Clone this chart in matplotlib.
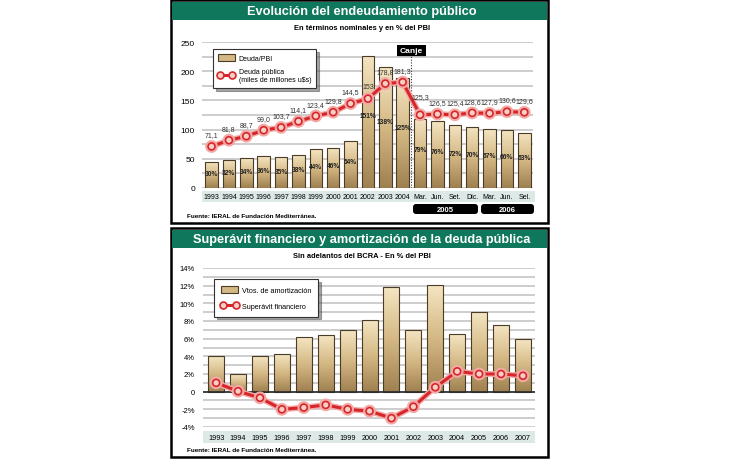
import numpy as np
import matplotlib
matplotlib.use("Agg")
import matplotlib.pyplot as plt
import matplotlib.patheffects as pe
from matplotlib.patches import Rectangle, FancyBboxPatch, Patch
from matplotlib.lines import Line2D
from matplotlib.colors import LinearSegmentedColormap
from matplotlib.ticker import FuncFormatter

plt.rcParams['font.family'] = ['Liberation Sans', 'DejaVu Sans']

# top chart: deuda publica
deuda_cats = ['1993', '1994', '1995', '1996', '1997', '1998', '1999', '2000', '2001', '2002',
              '2003', '2004', 'Mar.', 'Jun.', 'Set.', 'Dic.', 'Mar.', 'Jun.', 'Sel.']
deuda_pbi = [30, 32, 34, 36, 35, 38, 44, 46, 54, 151, 138, 125, 79, 76, 72, 70, 67, 66, 63]
deuda_usd = [71.1, 81.8, 88.7, 99.0, 103.7, 114.1, 123.4, 129.8, 144.5, 153.0, 178.8, 181.3,
             125.3, 126.5, 125.4, 128.6, 127.9, 130.6, 129.6]
deuda_usd_txt = ['71,1', '81,8', '88,7', '99,0', '103,7', '114,1', '123,4', '129,8', '144,5', '153',
                 '178,8', '181,3', '125,3', '126,5', '125,4', '128,6', '127,9', '130,6', '129,6']
periodos = ['2005', '2006']

# bottom chart: superavit y amortizacion
sup_years = ['1993', '1994', '1995', '1996', '1997', '1998', '1999', '2000', '2001', '2002',
             '2003', '2004', '2005', '2006', '2007']
vtos_amort = [4.0, 2.0, 4.0, 4.3, 6.2, 6.4, 7.0, 8.1, 11.8, 7.0, 12.1, 6.5, 9.0, 7.5, 6.0]
superavit = [1.0, 0.05, -0.7, -2.0, -1.8, -1.5, -2.0, -2.2, -3.0, -1.7, 0.5, 2.3, 2.0, 2.0, 1.8]

W, H = 730, 460
green = '#0f775c'
red = '#d7262b'
grid_c = '#c9c9c9'
band_c = '#dce9e6'
tan = LinearSegmentedColormap.from_list('tan', ['#9f8050', '#d4b884', '#f4e5c2'])
grad = np.linspace(0, 1, 200).reshape(-1, 1)

fig = plt.figure(figsize=(W / 100, H / 100), dpi=100)

# background layer in pixel coords
bg = fig.add_axes([0, 0, 1, 1], zorder=-5)
bg.set_xlim(0, W)
bg.set_ylim(H, 0)
bg.axis('off')


def panel(top, bottom, title, subtitle):
    bg.add_patch(Rectangle((171, top), 377, bottom - top, fc='white', ec='black', lw=1.8))
    bg.add_patch(Rectangle((172, top + 1.5), 375, 18, fc=green, ec='none'))
    bg.text(362, top + 11, title, color='white', fontsize=9.2, fontweight='bold',
            ha='center', va='center')
    bg.text(362, top + 27.5, subtitle, fontsize=5.4, fontweight='bold', ha='center', va='center')
    bg.text(187, bottom - 7, 'Fuente: IERAL de Fundación Mediterránea.', fontsize=4.6,
            fontweight='bold', ha='left', va='center')


panel(1, 224, 'Evolución del endeudamiento público', 'En términos nominales y en % del PBI')
panel(229, 458, 'Superávit financiero y amortización de la deuda pública',
      'Sin adelantos del BCRA - En % del PBI')


def px_axes(l, t, r, b):
    a = fig.add_axes([l / W, 1 - b / H, (r - l) / W, (b - t) / H])
    a.patch.set_alpha(0)
    return a


def grad_bars(a, x, vals, width):
    bars = a.bar(x, vals, width=width, fc='none', ec='#4a3c26', lw=0.8, zorder=3)
    for b in bars:
        bx, by, bw, bh = b.get_x(), b.get_y(), b.get_width(), b.get_height()
        im = a.imshow(grad, extent=[bx, bx + bw, by, by + bh], origin='lower', cmap=tan,
                      aspect='auto', zorder=2.9)
        im.set_clip_path(b)
    return bars


def red_line(a, x, vals):
    a.plot(x, vals, color=red, lw=2.2, marker='o', ms=5, mfc='#f8cfc4', mec=red, mew=1.2,
           zorder=5, path_effects=[pe.Stroke(linewidth=4.2, foreground='#f3a9a5'), pe.Normal()])


def clean(a):
    for s in a.spines.values():
        s.set_visible(False)


# ---------------- top chart ----------------
x1 = np.arange(len(deuda_cats))
ax = px_axes(202, 43, 533, 189)
ax_b = ax.twinx()
ax_l = ax.twinx()
for a in (ax, ax_b, ax_l):
    clean(a)

ax.set_yticks(range(0, 251, 50))
ax.set_yticks(range(0, 251, 25), minor=True)
ax.grid(axis='y', which='both', color=grid_c, lw=1.3)
ax.set_axisbelow(True)
ax.tick_params(axis='y', which='both', length=0, labelsize=6, pad=5)
ax.set_xticks(x1, deuda_cats)
ax.tick_params(axis='x', length=0, labelsize=5, pad=3.5)
bg.add_patch(Rectangle((202, 192), 333, 11, fc=band_c, ec='none'))

grad_bars(ax_b, x1, deuda_pbi, 0.72)
for i, v in enumerate(deuda_pbi):
    ax_b.text(i, v * 0.55, f'{v}%', ha='center', va='center', fontsize=4.8,
              fontweight='bold', color='#222222', zorder=4)
ax_b.set_ylim(0, 250 / 1.5)
ax_b.set_yticks([])

red_line(ax_l, x1, deuda_usd)
for i, (v, t) in enumerate(zip(deuda_usd, deuda_usd_txt)):
    dy = 13 if i == 12 else 8.5
    ax_l.annotate(t, (i, v), xytext=(0, dy), textcoords='offset points', ha='center',
                  va='center', fontsize=5, color='#333333', zorder=6)
ax_l.vlines(11.5, 0, 226, colors='#333333', linestyles=(0, (1, 1.5)), lw=0.8, zorder=4)
ax_l.set_ylim(0, 250)
ax_l.set_yticks([])
ax.set_ylim(0, 250)
ax.set_xlim(-0.55, 18.5)

bg.text(411.5, 51.5, 'Canje', color='white', fontsize=6, fontweight='bold', ha='center',
        va='center', bbox=dict(boxstyle='square,pad=0.3', fc='black', ec='none'))
for (l, r), lab in zip([(413, 478), (481, 534)], periodos):
    bg.add_patch(FancyBboxPatch((l, 205), r - l, 10, boxstyle='round,pad=0,rounding_size=3',
                                fc='black', ec='none'))
    bg.text((l + r) / 2, 210.5, lab, color='white', fontsize=5.5, fontweight='bold',
            ha='center', va='center')

h_bar = Patch(fc='#d4b884', ec='#4a3c26', lw=0.8)
h_line = Line2D([], [], color=red, lw=2.2, marker='o', ms=5, mfc='#f8cfc4', mec=red, mew=1.2)
leg = ax_l.legend([h_bar, h_line], ['Deuda/PBI', 'Deuda pública\n(miles de millones u$s)'],
                  loc='upper left', bbox_to_anchor=(213 / W, 1 - 50 / H),
                  bbox_transform=fig.transFigure, fontsize=5, frameon=True, fancybox=False,
                  shadow=True, edgecolor='#333333', numpoints=2, handlelength=2.4,
                  handleheight=1.3, borderpad=0.7, labelspacing=0.9, borderaxespad=0,
                  handletextpad=0.6)
leg.get_frame().set_linewidth(0.8)

# ---------------- bottom chart ----------------
x2 = np.arange(len(sup_years))
ax2 = px_axes(203, 269, 535, 428)
clean(ax2)
ax2.set_yticks(range(-4, 15, 2))
ax2.set_yticks(range(-4, 15, 1), minor=True)
ax2.yaxis.set_major_formatter(FuncFormatter(lambda v, p: '0' if v == 0 else f'{int(v)}%'))
ax2.grid(axis='y', which='both', color=grid_c, lw=1.3)
ax2.set_axisbelow(True)
ax2.tick_params(axis='y', which='both', length=0, labelsize=5.5, pad=6)
ax2.set_xticks(x2, sup_years)
ax2.tick_params(axis='x', length=0, labelsize=5.2, pad=5)
bg.add_patch(Rectangle((203, 432), 332, 12, fc=band_c, ec='none'))

grad_bars(ax2, x2, vtos_amort, 0.73)
ax2.axhline(0, color='#2a2a2a', lw=1.2, zorder=4)
red_line(ax2, x2, superavit)
ax2.set_ylim(-4, 14)
ax2.set_xlim(-0.6, 14.55)

leg2 = ax2.legend([h_bar, Line2D([], [], color=red, lw=2.2, marker='o', ms=5, mfc='#f8cfc4',
                                 mec=red, mew=1.2)],
                  ['Vtos. de amortización', 'Superávit financiero'],
                  loc='upper left', bbox_to_anchor=(214 / W, 1 - 280 / H),
                  bbox_transform=fig.transFigure, fontsize=5.2, frameon=True, fancybox=False,
                  shadow=True, edgecolor='#333333', numpoints=2, handlelength=2.4,
                  handleheight=1.3, borderpad=0.9, labelspacing=1.1, borderaxespad=0,
                  handletextpad=0.6)
leg2.get_frame().set_linewidth(0.8)

fig.savefig('out.png', dpi=100)
